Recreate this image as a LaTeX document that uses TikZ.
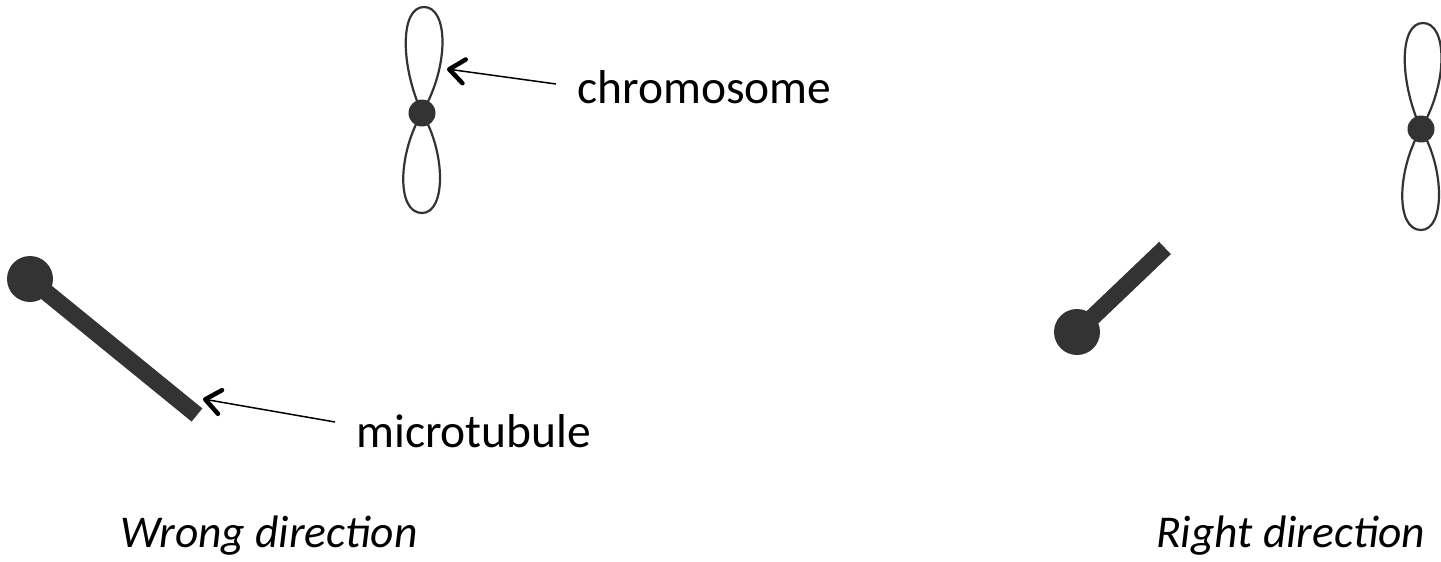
\documentclass[tikz,border=0pt]{standalone}
\usepackage{fontspec}
\setmainfont{Carlito}
\usetikzlibrary{arrows.meta}
\definecolor{ink}{HTML}{333333}
\tikzset{
  loopline/.style={draw=ink, line width=2.2pt},
  centromere/.style={circle, fill=ink, inner sep=0pt, minimum size=27pt},
  tubebody/.style={draw=ink, line width=17pt, line cap=butt},
  tubeball/.style={circle, fill=ink, inner sep=0pt, minimum size=46pt},
  pointer/.style={draw=black, line width=1.5pt,
    -{Straight Barb[length=15pt, width=24pt, line width=4.5pt, round]}},
  label/.style={font=\fontsize{47.5}{50}\selectfont, inner sep=0pt, anchor=base west},
  caption/.style={font=\fontsize{45.5}{50}\selectfont\itshape, inner sep=0pt, anchor=base west}
}
\begin{document}
\begin{tikzpicture}[x=1pt, y=-1pt]
  \useasboundingbox (0,0) rectangle (1441,562);

  % left chromosome: two teardrop arms joined at the centromere
  \begin{scope}[shift={(422,113)}]
    \draw[loopline] (0,0) .. controls (28,-48) and (26,-106) .. (2,-106)
                          .. controls (-22,-106) and (-22,-48) .. (0,0);
    \draw[loopline] (0,0) .. controls (24,40) and (24,100) .. (0,100)
                          .. controls (-26,100) and (-24,40) .. (0,0);
    \node[centromere] (cenL) at (0,0) {};
    \coordinate (armL) at (25,-44);
  \end{scope}

  % right chromosome
  \begin{scope}[shift={(1421,129)}]
    \draw[loopline] (0,0) .. controls (28,-48) and (26,-106) .. (2,-106)
                          .. controls (-22,-106) and (-22,-48) .. (0,0);
    \draw[loopline] (0,0) .. controls (24,40) and (24,101) .. (0,101)
                          .. controls (-26,101) and (-24,40) .. (0,0);
    \node[centromere] (cenR) at (0,0) {};
  \end{scope}

  % left microtubule (pointing away from the chromosome)
  \coordinate (tubeLend) at (197,415);
  \node[tubeball] (ballL) at (30,279) {};
  \draw[tubebody] (ballL.center) -- (tubeLend);

  % right microtubule (pointing toward the chromosome)
  \coordinate (tubeRend) at (1165,248);
  \node[tubeball] (ballR) at (1077,332) {};
  \draw[tubebody] (ballR.center) -- (tubeRend);

  % labels and their pointers
  \node[label] (chromLabel) at (577,103) {chromosome};
  \node[label] (tubeLabel) at (356,447) {microtubule};
  \coordinate (chromTail) at (556,84);
  \coordinate (tubeTail) at (335,422);
  \coordinate (tubeTip) at (203,399);
  \draw[pointer] (chromTail) -- (armL);
  \draw[pointer] (tubeTail) -- (tubeTip);

  % captions
  \node[caption] (wrong) at (120,547) {Wrong direction};
  \node[caption] (right) at (1156,547) {Right direction};
\end{tikzpicture}
\end{document}
